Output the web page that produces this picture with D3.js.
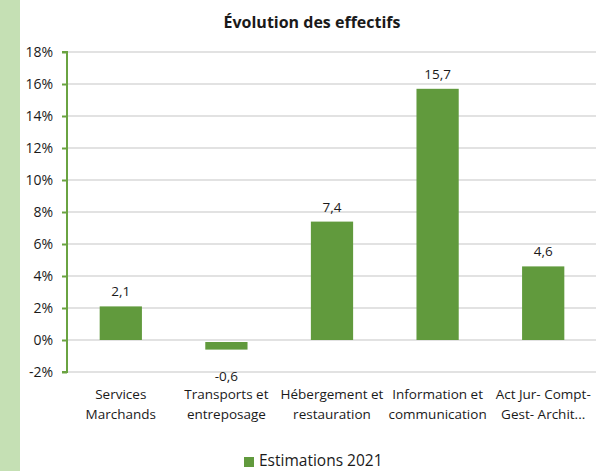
<!DOCTYPE html>
<html>
<head>
<meta charset="utf-8">
<script src="https://cdn.jsdelivr.net/npm/d3@7"></script>
<style>
  html, body { margin: 0; padding: 0; background: #fff; }
  svg { display: block; }
  text { font-family: "Open Sans", sans-serif; fill: #1a1a1a; }
</style>
</head>
<body>
<svg id="chart" width="596" height="471"></svg>
<script>
const title = "Évolution des effectifs";
const categories = [
  ["Services", "Marchands"],
  ["Transports et", "entreposage"],
  ["Hébergement et", "restauration"],
  ["Information et", "communication"],
  ["Act Jur- Compt-", "Gest- Archit..."]
];
const values = [2.1, -0.6, 7.4, 15.7, 4.6];
const valueLabels = ["2,1", "-0,6", "7,4", "15,7", "4,6"];
const yTicks = [-2, 0, 2, 4, 6, 8, 10, 12, 14, 16, 18];
const seriesName = "Estimations 2021";

const W = 596, H = 471;
const svg = d3.select("#chart");
const green = "#619a3d";

// left accent strip
svg.append("rect").attr("x", 0).attr("y", 0).attr("width", 20).attr("height", H).attr("fill", "#c5e0b4");

const pL = 67, pR = 596, pT = 52, pB = 372;
const x = d3.scaleBand().domain(d3.range(categories.length)).range([pL + 1, pR]).paddingInner(0.6).paddingOuter(0.3);
const y = d3.scaleLinear().domain([-2, 18]).range([pB, pT]);

// gridlines
svg.append("g").selectAll("line").data(yTicks).join("line")
  .attr("x1", pL).attr("x2", pR)
  .attr("y1", d => y(d)).attr("y2", d => y(d))
  .attr("stroke", "#d9d9d9").attr("stroke-width", 1.5);

// bars
svg.append("g").selectAll("rect").data(values).join("rect")
  .attr("x", (d, i) => x(i))
  .attr("width", x.bandwidth())
  .attr("y", d => y(Math.max(0, d)) + (d < 0 ? 2 : 0))
  .attr("height", d => Math.abs(y(d) - y(0)) - (d < 0 ? 2 : 0))
  .attr("fill", green);

// y axis
const yAxis = d3.axisLeft(y).tickValues(yTicks).tickSize(5).tickPadding(9).tickFormat(d => d + "%");
const ga = svg.append("g").attr("transform", `translate(${pL},0)`).call(yAxis);
ga.select(".domain").attr("stroke", "#6aa341").attr("stroke-width", 2).attr("d", `M-5,${y(18)}H0V${y(-2)}H-5`);
ga.selectAll(".tick line").attr("stroke", "#6aa341").attr("stroke-width", 2);
ga.selectAll(".tick text").style("font-size", "14px").attr("fill", "#1a1a1a").style("font-family", "'Open Sans', sans-serif");

// value labels
svg.append("g").selectAll("text").data(values).join("text")
  .attr("x", (d, i) => x(i) + x.bandwidth() / 2)
  .attr("y", d => d >= 0 ? y(d) - 15 : y(d) + 26)
  .attr("text-anchor", "middle")
  .attr("dominant-baseline", "central")
  .style("font-size", "13.5px")
  .text((d, i) => valueLabels[i]);

// category labels
const cl = svg.append("g").selectAll("text").data(categories).join("text")
  .attr("text-anchor", "middle")
  .style("font-size", "13.5px");
cl.each(function(lines, i) {
  const t = d3.select(this);
  lines.forEach((ln, j) => {
    t.append("tspan").attr("x", x(i) + x.bandwidth() / 2).attr("y", 394 + j * 20)
      .attr("dominant-baseline", "central").text(ln);
  });
});

// title
svg.append("text").attr("x", 312).attr("y", 22).attr("text-anchor", "middle")
  .attr("dominant-baseline", "central")
  .style("font-size", "16px").style("font-weight", "bold").text(title);

// legend
svg.append("rect").attr("x", 244).attr("y", 457).attr("width", 10).attr("height", 10).attr("fill", green);
svg.append("text").attr("x", 259).attr("y", 466)
  .style("font-size", "15.5px").text(seriesName);
</script>
</body>
</html>
